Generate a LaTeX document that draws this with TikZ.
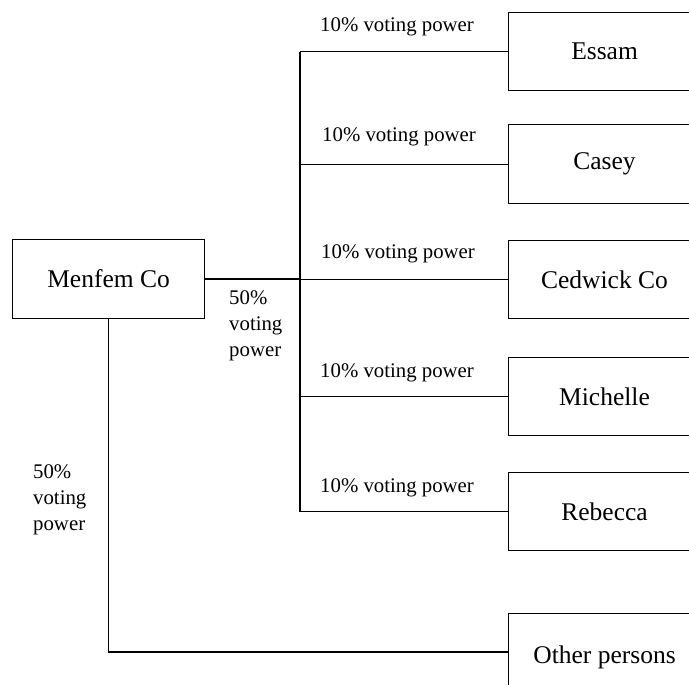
\documentclass[tikz,border=0pt]{standalone}
\usepackage{fontspec}
\setmainfont{Liberation Serif}
\begin{document}
\begin{tikzpicture}[x=1pt,y=-1pt,
  box/.style={draw,line width=1.1pt,rectangle,inner sep=0pt,anchor=north west,font=\fontsize{25.5}{30}\selectfont},
  lbl/.style={inner sep=0pt,anchor=west,font=\fontsize{20.8}{26}\selectfont,align=left},
  conn/.style={line width=1.1pt}]
\useasboundingbox (0,0) rectangle (689,685);
\clip (0,0) rectangle (689,685);
\node[box,minimum width=192pt,minimum height=79pt] (menfem) at (12,239) {Menfem Co};
\node[box,minimum width=192pt,minimum height=78pt] (essam) at (508,12) {Essam};
\node[box,minimum width=192pt,minimum height=79pt] (casey) at (508,124) {Casey};
\node[box,minimum width=192pt,minimum height=78pt] (cedwick) at (508,240) {Cedwick Co};
\node[box,minimum width=192pt,minimum height=78pt] (michelle) at (508,357) {Michelle};
\node[box,minimum width=192pt,minimum height=78pt] (rebecca) at (508,472) {Rebecca};
\node[box,minimum width=192pt,minimum height=88pt] (other) at (508,613) {Other persons};
\coordinate (trunk) at (300,0);
\coordinate (otherin) at ([yshift=-39pt]other.north west);
\draw[conn] (essam.west -| trunk) -- (rebecca.west -| trunk);
\draw[conn,line width=1.4pt] (menfem.east) -- (menfem.east -| trunk);
\foreach \n in {essam,casey,cedwick,michelle,rebecca}
  \draw[conn] (\n.west -| trunk) -- (\n.west);
\draw[conn] (menfem.south) -- (menfem.south |- otherin) -- (otherin);
\node[lbl] (l1) at (320,27) {10\% voting power};
\node[lbl] (l2) at (322,137) {10\% voting power};
\node[lbl] (l3) at (321,254) {10\% voting power};
\node[lbl] (l4) at (320,373) {10\% voting power};
\node[lbl] (l5) at (320,488) {10\% voting power};
\node[lbl] (l6) at (229,326) {50\%\\voting\\power};
\node[lbl] (l7) at (33,500) {50\%\\voting\\power};
\end{tikzpicture}
\end{document}
